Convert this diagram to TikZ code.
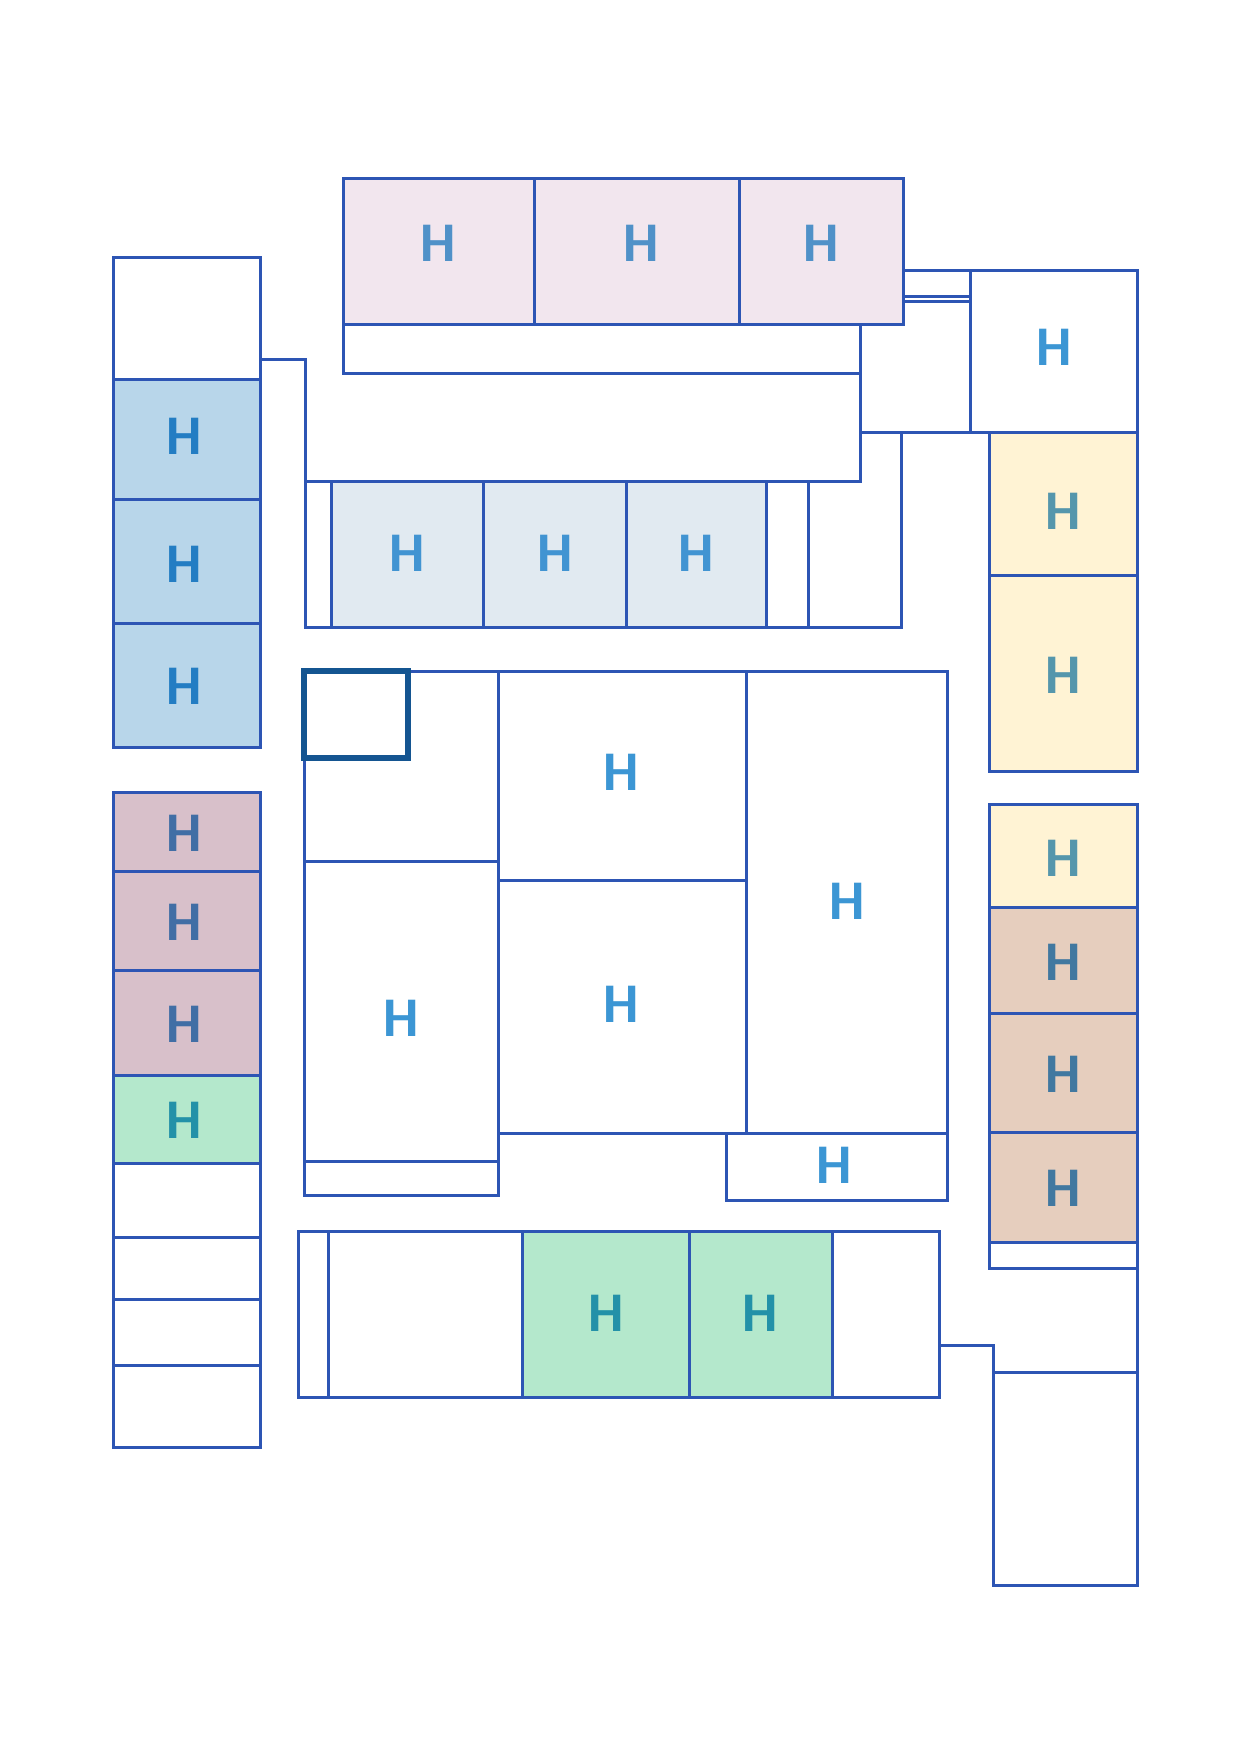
\documentclass[tikz,border=0pt]{standalone}
\usepackage{fontspec}
\newfontfamily\hfont{Carlito}
\definecolor{lineblue}{RGB}{45,85,180}
\definecolor{sqc}{RGB}{20,85,145}
\definecolor{pinkc}{RGB}{242,230,238}
\definecolor{bluec}{RGB}{184,214,234}
\definecolor{greyc}{RGB}{225,234,241}
\definecolor{yellowc}{RGB}{255,243,212}
\definecolor{mauvec}{RGB}{216,192,202}
\definecolor{greenc}{RGB}{180,232,204}
\definecolor{tanc}{RGB}{230,206,190}
\definecolor{hw}{RGB}{60,150,212}
\definecolor{hp}{RGB}{80,145,200}
\definecolor{hb}{RGB}{35,125,195}
\definecolor{hg}{RGB}{65,148,210}
\definecolor{hy}{RGB}{85,150,172}
\definecolor{hm}{RGB}{65,110,165}
\definecolor{hgr}{RGB}{35,145,168}
\definecolor{ht}{RGB}{65,120,160}
\tikzset{
  room/.style={draw=lineblue, line width=3pt, line join=miter},
  wall/.style={draw=lineblue, line width=3pt, line join=miter, line cap=rect},
  hl/.style={inner sep=0pt, font=\hfont\bfseries\fontsize{56}{56}\selectfont},
  thicksq/.style={draw=sqc, line width=5.5pt, line join=miter}
}
\begin{document}
\begin{tikzpicture}[x=1pt,y=-1pt]
\useasboundingbox (0,0) rectangle (1240,1754);
\fill[white] (0,0) rectangle (1240,1754);

% ---- top area ----
\draw[room] (860,301) rectangle (970,432);
\draw[wall] (860,432) -- (860,481);
\draw[wall] (260,359) -- (305,359) -- (305,627) -- (901,627) -- (901,432);
\draw[room] (343,324) rectangle (860,373);
\draw[room, fill=pinkc] (343,178) rectangle (534,324);
\draw[room, fill=pinkc] (534,178) rectangle (739,324);
\draw[room, fill=pinkc] (739,178) rectangle (903,324);
\node[hl, text=hp] (p1) at (438,243) {H};
\node[hl, text=hp] (p2) at (641,243) {H};
\node[hl, text=hp] (p3) at (821,243) {H};
\draw[room] (903,270) rectangle (970,296);
\draw[room] (970,270) rectangle (1137,432);
\node[hl, text=hw] (rt) at (1054,347) {H};

% ---- corridor ----
\draw[wall] (305,481) -- (860,481);
\draw[wall] (860,432) -- (970,432);
\draw[wall] (808,481) -- (808,627);
\draw[room, fill=greyc] (331,481) rectangle (483,627);
\draw[room, fill=greyc] (483,481) rectangle (626,627);
\draw[room, fill=greyc] (626,481) rectangle (766,627);
\node[hl, text=hg] (c1) at (407,553) {H};
\node[hl, text=hg] (c2) at (555,553) {H};
\node[hl, text=hg] (c3) at (696,553) {H};

% ---- right column ----
\draw[room, fill=yellowc] (989,432) rectangle (1137,575);
\draw[room, fill=yellowc] (989,575) rectangle (1137,771);
\node[hl, text=hy] (y1) at (1063,511) {H};
\node[hl, text=hy] (y2) at (1063,675) {H};

\draw[room, fill=yellowc] (989,804) rectangle (1137,907);
\draw[room, fill=tanc] (989,907) rectangle (1137,1013);
\draw[room, fill=tanc] (989,1013) rectangle (1137,1132);
\draw[room, fill=tanc] (989,1132) rectangle (1137,1242);
\draw[room] (989,1242) rectangle (1137,1268);
\node[hl, text=hy] (y3) at (1063,858) {H};
\node[hl, text=ht] (t1) at (1063,962) {H};
\node[hl, text=ht] (t2) at (1063,1074) {H};
\node[hl, text=ht] (t3) at (1063,1188) {H};

% ---- left column ----
\draw[room] (113,257) rectangle (260,379);
\draw[room, fill=bluec] (113,379) rectangle (260,499);
\draw[room, fill=bluec] (113,499) rectangle (260,623);
\draw[room, fill=bluec] (113,623) rectangle (260,747);
\node[hl, text=hb] (b1) at (184,436) {H};
\node[hl, text=hb] (b2) at (184,564) {H};
\node[hl, text=hb] (b3) at (184,686) {H};

\draw[room, fill=mauvec] (113,792) rectangle (260,871);
\draw[room, fill=mauvec] (113,871) rectangle (260,970);
\draw[room, fill=mauvec] (113,970) rectangle (260,1075);
\draw[room, fill=greenc] (113,1075) rectangle (260,1163);
\draw[room] (113,1163) rectangle (260,1237);
\draw[room] (113,1237) rectangle (260,1299);
\draw[room] (113,1299) rectangle (260,1365);
\draw[room] (113,1365) rectangle (260,1447);
\node[hl, text=hm] (m1) at (184,833) {H};
\node[hl, text=hm] (m2) at (184,922) {H};
\node[hl, text=hm] (m3) at (184,1024) {H};
\node[hl, text=hgr] (g1) at (184,1120) {H};

% ---- central block ----
\draw[room] (304,671) rectangle (498,861);
\draw[room] (304,861) rectangle (498,1161);
\draw[room] (304,1161) rectangle (498,1195);
\draw[room] (498,671) rectangle (746,880);
\draw[room] (498,880) rectangle (746,1133);
\draw[room] (746,671) rectangle (947,1133);
\draw[room] (726,1133) rectangle (947,1200);
\node[hl, text=hw] (k1) at (401,1018) {H};
\node[hl, text=hw] (k2) at (621,772) {H};
\node[hl, text=hw] (k3) at (621,1004) {H};
\node[hl, text=hw] (k4) at (847,901) {H};
\node[hl, text=hw] (k5) at (834,1165) {H};
\draw[thicksq] (304,671) rectangle (408,758);

% ---- bottom block ----
\draw[room] (298,1231) rectangle (939,1397);
\draw[wall] (328,1231) -- (328,1397);
\draw[room, fill=greenc] (522,1231) rectangle (689,1397);
\draw[room, fill=greenc] (689,1231) rectangle (832,1397);
\node[hl, text=hgr] (g2) at (606,1313) {H};
\node[hl, text=hgr] (g3) at (760,1313) {H};

% ---- bottom right ----
\draw[wall] (939,1345) -- (993,1345) -- (993,1585) -- (1137,1585) -- (1137,1268);
\draw[wall] (993,1372) -- (1137,1372);
\end{tikzpicture}
\end{document}
